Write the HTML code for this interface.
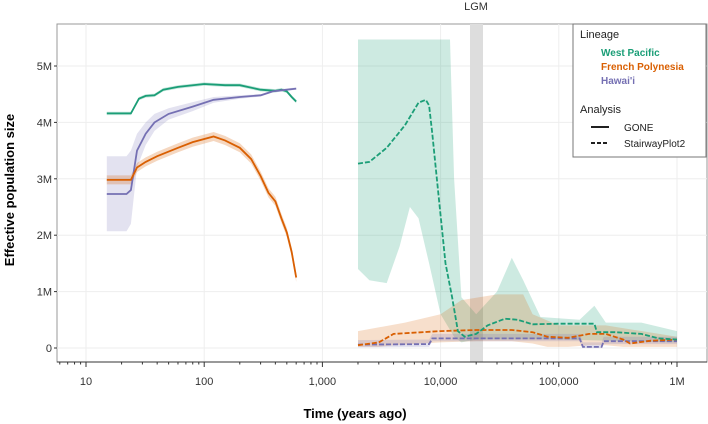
<!DOCTYPE html>
<html><head><meta charset="utf-8"><style>
body{margin:0;background:#fff;font-family:"Liberation Sans",sans-serif;}
svg{display:block}
</style></head><body>
<svg id="c" width="708" height="424" xmlns="http://www.w3.org/2000/svg"></svg>
<script>
const xTicks=[10,100,1000,10000,100000,1000000];
const xTickLabels=["10","100","1,000","10,000","100,000","1M"];
const yTicks=[0,1,2,3,4,5];
const yTickLabels=["0","1M","2M","3M","4M","5M"];
// values in millions
const wpGoneT=[15,24,28,32,38,45,60,100,150,200,300,400,450,500,550,600];
const wpGoneV=[4.16,4.16,4.42,4.47,4.48,4.58,4.63,4.68,4.66,4.66,4.58,4.56,4.58,4.55,4.45,4.37];
const hwGoneT=[15,22,24,27,32,38,50,80,120,200,300,380,450,600];
const hwGoneV=[2.73,2.73,2.8,3.5,3.8,4.0,4.15,4.28,4.4,4.45,4.48,4.55,4.57,4.6];
const hwGoneLo=[2.07,2.07,2.2,3.2,3.6,3.85,4.05,4.2,4.35,4.42,4.46,4.53,4.55,4.58];
const hwGoneHi=[3.4,3.4,3.5,3.8,4.0,4.15,4.25,4.36,4.45,4.48,4.5,4.57,4.59,4.62];
const fpGoneT=[15,24,27,32,40,60,80,120,150,200,250,300,350,400,450,500,550,600];
const fpGoneV=[2.98,2.98,3.2,3.3,3.4,3.55,3.65,3.75,3.68,3.55,3.35,3.05,2.75,2.6,2.3,2.05,1.7,1.25];
const wpStT=[2000,2500,3500,5000,6500,7500,8000,8500,9500,11000,12500,14000,16000,20000,25000,35000,45000,60000,100000,200000,210000,300000,500000,700000,1000000];
const wpStV=[3.27,3.3,3.55,3.95,4.35,4.4,4.3,3.8,2.8,1.5,0.9,0.3,0.2,0.25,0.4,0.52,0.5,0.42,0.43,0.43,0.28,0.28,0.25,0.17,0.15];
const wpHiT=[2000,12000,13000,15000,20000,30000,40000,50000,70000,150000,200000,250000,500000,1000000];
const wpHiV=[5.47,5.47,3.0,0.9,0.6,1.0,1.6,1.2,0.55,0.5,0.75,0.45,0.45,0.3];
const wpLoT=[2000,2500,3500,4500,5500,6500,8000,10000,13000,15000,20000,100000,1000000];
const wpLoV=[1.4,1.2,1.15,1.8,2.5,2.3,1.5,0.6,0.2,0.1,0.15,0.15,0.1];
const fpStT=[2000,3000,4000,10000,20000,40000,60000,80000,120000,180000,250000,350000,400000,600000,1000000];
const fpStV=[0.05,0.1,0.25,0.3,0.32,0.32,0.28,0.2,0.18,0.25,0.25,0.15,0.08,0.13,0.15];
const fpHiT=[2000,5000,10000,15000,30000,50000,60000,100000,250000,1000000];
const fpHiV=[0.3,0.45,0.6,0.85,0.95,0.95,0.6,0.4,0.4,0.2];
const hwStT=[2000,8000,8500,150000,160000,230000,240000,1000000];
const hwStV=[0.06,0.07,0.17,0.17,0.02,0.02,0.12,0.12];
const G="#1b9e77",O="#d95f02",P="#7570b3";
const L=57,R=707,T=24,B=362;
const x=t=>86+(Math.log10(t)-1)*118.2;
const y=v=>348-v*56.4;
const svg=document.getElementById('c');
const NS="http://www.w3.org/2000/svg";
function mk(tag,attrs,name,parent){const e=document.createElementNS(NS,tag);for(const k in attrs)e.setAttribute(k,attrs[k]);


(parent||svg).appendChild(e);return e;}
function pts(T,V){return T.map((t,i)=>x(t).toFixed(1)+","+y(V[i]).toFixed(1)).join(" ");}
mk('rect',{x:L,y:T,width:R-L,height:B-T,fill:"#fff",stroke:"#999","stroke-width":1},'plot-panel');
for(let d=1;d<=6;d++){for(let m=2;m<=9;m++){const t=m*Math.pow(10,d-1)*10/10;}}
xTicks.forEach(t=>mk('line',{x1:x(t),x2:x(t),y1:T,y2:B,stroke:"#eee"},'x-gridline'));
yTicks.forEach(v=>mk('line',{x1:L,x2:R,y1:y(v),y2:y(v),stroke:"#eee"},'y-gridline'));
mk('rect',{x:470,y:T,width:13,height:B-T,fill:"#ddd"},'lgm-band');
const lg=mk('text',{x:476,y:10,"text-anchor":"middle","font-size":11,fill:"#333"},'lgm-label');lg.textContent="LGM";
// ribbons
function band(Tl,Lo,Th,Hi,c,op,name){const p=pts(Th,Hi)+" "+Tl.map((t,i)=>x(t).toFixed(1)+","+y(Lo[i]).toFixed(1)).reverse().join(" ");mk('polygon',{points:p,fill:c,"fill-opacity":op},name);}
band(wpLoT,wpLoV,wpHiT,wpHiV,G,0.22,'west-pacific-stairway-ci');
band(fpStT,fpStV.map(v=>Math.max(0.02,v-0.2)),fpHiT,fpHiV,O,0.2,'french-polynesia-stairway-ci');
band(hwStT,hwStV.map(v=>Math.max(0,v-0.05)),hwStT,hwStV.map(v=>v+0.08),P,0.2,'hawaii-stairway-ci');
band(hwGoneT,hwGoneLo,hwGoneT,hwGoneHi,P,0.2,'hawaii-gone-ci');
band(fpGoneT,fpGoneV.map(v=>v-0.08),fpGoneT,fpGoneV.map(v=>v+0.08),O,0.25,'french-polynesia-gone-ci');
band(wpGoneT,wpGoneV.map(v=>v-0.03),wpGoneT,wpGoneV.map(v=>v+0.03),G,0.25,'west-pacific-gone-ci');
function line(Tt,V,c,dash,name){mk('polyline',{points:pts(Tt,V),fill:"none",stroke:c,"stroke-width":1.8,"stroke-dasharray":dash?"5,2":"none"},name);}
line(hwStT,hwStV,P,1,'hawaii-stairway-line');
line(fpStT,fpStV,O,1,'french-polynesia-stairway-line');
line(wpStT,wpStV,G,1,'west-pacific-stairway-line');
line(wpGoneT,wpGoneV,G,0,'west-pacific-gone-line');
line(hwGoneT,hwGoneV,P,0,'hawaii-gone-line');
line(fpGoneT,fpGoneV,O,0,'french-polynesia-gone-line');
// axes
mk('line',{x1:L,x2:R,y1:B,y2:B,stroke:"#333"},'x-axis-line');
for(let e=0;e<=6;e++){for(let m=1;m<=9;m++){const t=m*Math.pow(10,e);if(t<6||t>1000000)continue;const big=m===1&&t>=10;
mk('line',{x1:x(t),x2:x(t),y1:B,y2:B+(big?5:2.5),stroke:"#333"},'x-tick');}}
xTicks.forEach((t,i)=>{const e=mk('text',{x:x(t),y:385,"text-anchor":"middle","font-size":11,fill:"#333"},'x-tick-label');e.textContent=xTickLabels[i];});
yTicks.forEach((v,i)=>{mk('line',{x1:L-3,x2:L,y1:y(v),y2:y(v),stroke:"#333"},'y-tick');const e=mk('text',{x:L-5,y:y(v)+4,"text-anchor":"end","font-size":11,fill:"#333"},'y-tick-label');e.textContent=yTickLabels[i];});
const xt=mk('text',{x:355,y:418,"text-anchor":"middle","font-size":13,"font-weight":"bold"},'x-axis-title');xt.textContent="Time (years ago)";
const yt=mk('text',{x:0,y:0,transform:"translate(14,190) rotate(-90)","text-anchor":"middle","font-size":13,"font-weight":"bold"},'y-axis-title');yt.textContent="Effective population size";
// legend
const lgd=mk('g',{},'legend');
mk('rect',{x:573,y:24,width:133,height:133,fill:"#fff",stroke:"#777"},'legend-box',lgd);
const tx=(s,x0,y0,opt,name)=>{const e=mk('text',Object.assign({x:x0,y:y0,"font-size":11},opt),name,lgd);e.textContent=s;};
tx("Lineage",580,38,{fill:"#222"},'legend-title-lineage');
tx("West Pacific",601,56,{fill:G,"font-weight":"bold","font-size":10},'legend-entry-west-pacific');
tx("French Polynesia",601,70,{fill:O,"font-weight":"bold","font-size":10},'legend-entry-french-polynesia');
tx("Hawai'i",601,84,{fill:P,"font-weight":"bold","font-size":10},'legend-entry-hawaii');
tx("Analysis",580,113,{fill:"#222"},'legend-title-analysis');
mk('line',{x1:591,x2:609,y1:127,y2:127,stroke:"#000","stroke-width":1.8},'legend-key-gone',lgd);
tx("GONE",624,131,{fill:"#222","font-size":10},'legend-entry-gone');
mk('line',{x1:591,x2:609,y1:143,y2:143,stroke:"#000","stroke-width":1.8,"stroke-dasharray":"4,2"},'legend-key-stairway',lgd);
tx("StairwayPlot2",624,147,{fill:"#222","font-size":10},'legend-entry-stairwayplot2');
</script>
</body></html>
